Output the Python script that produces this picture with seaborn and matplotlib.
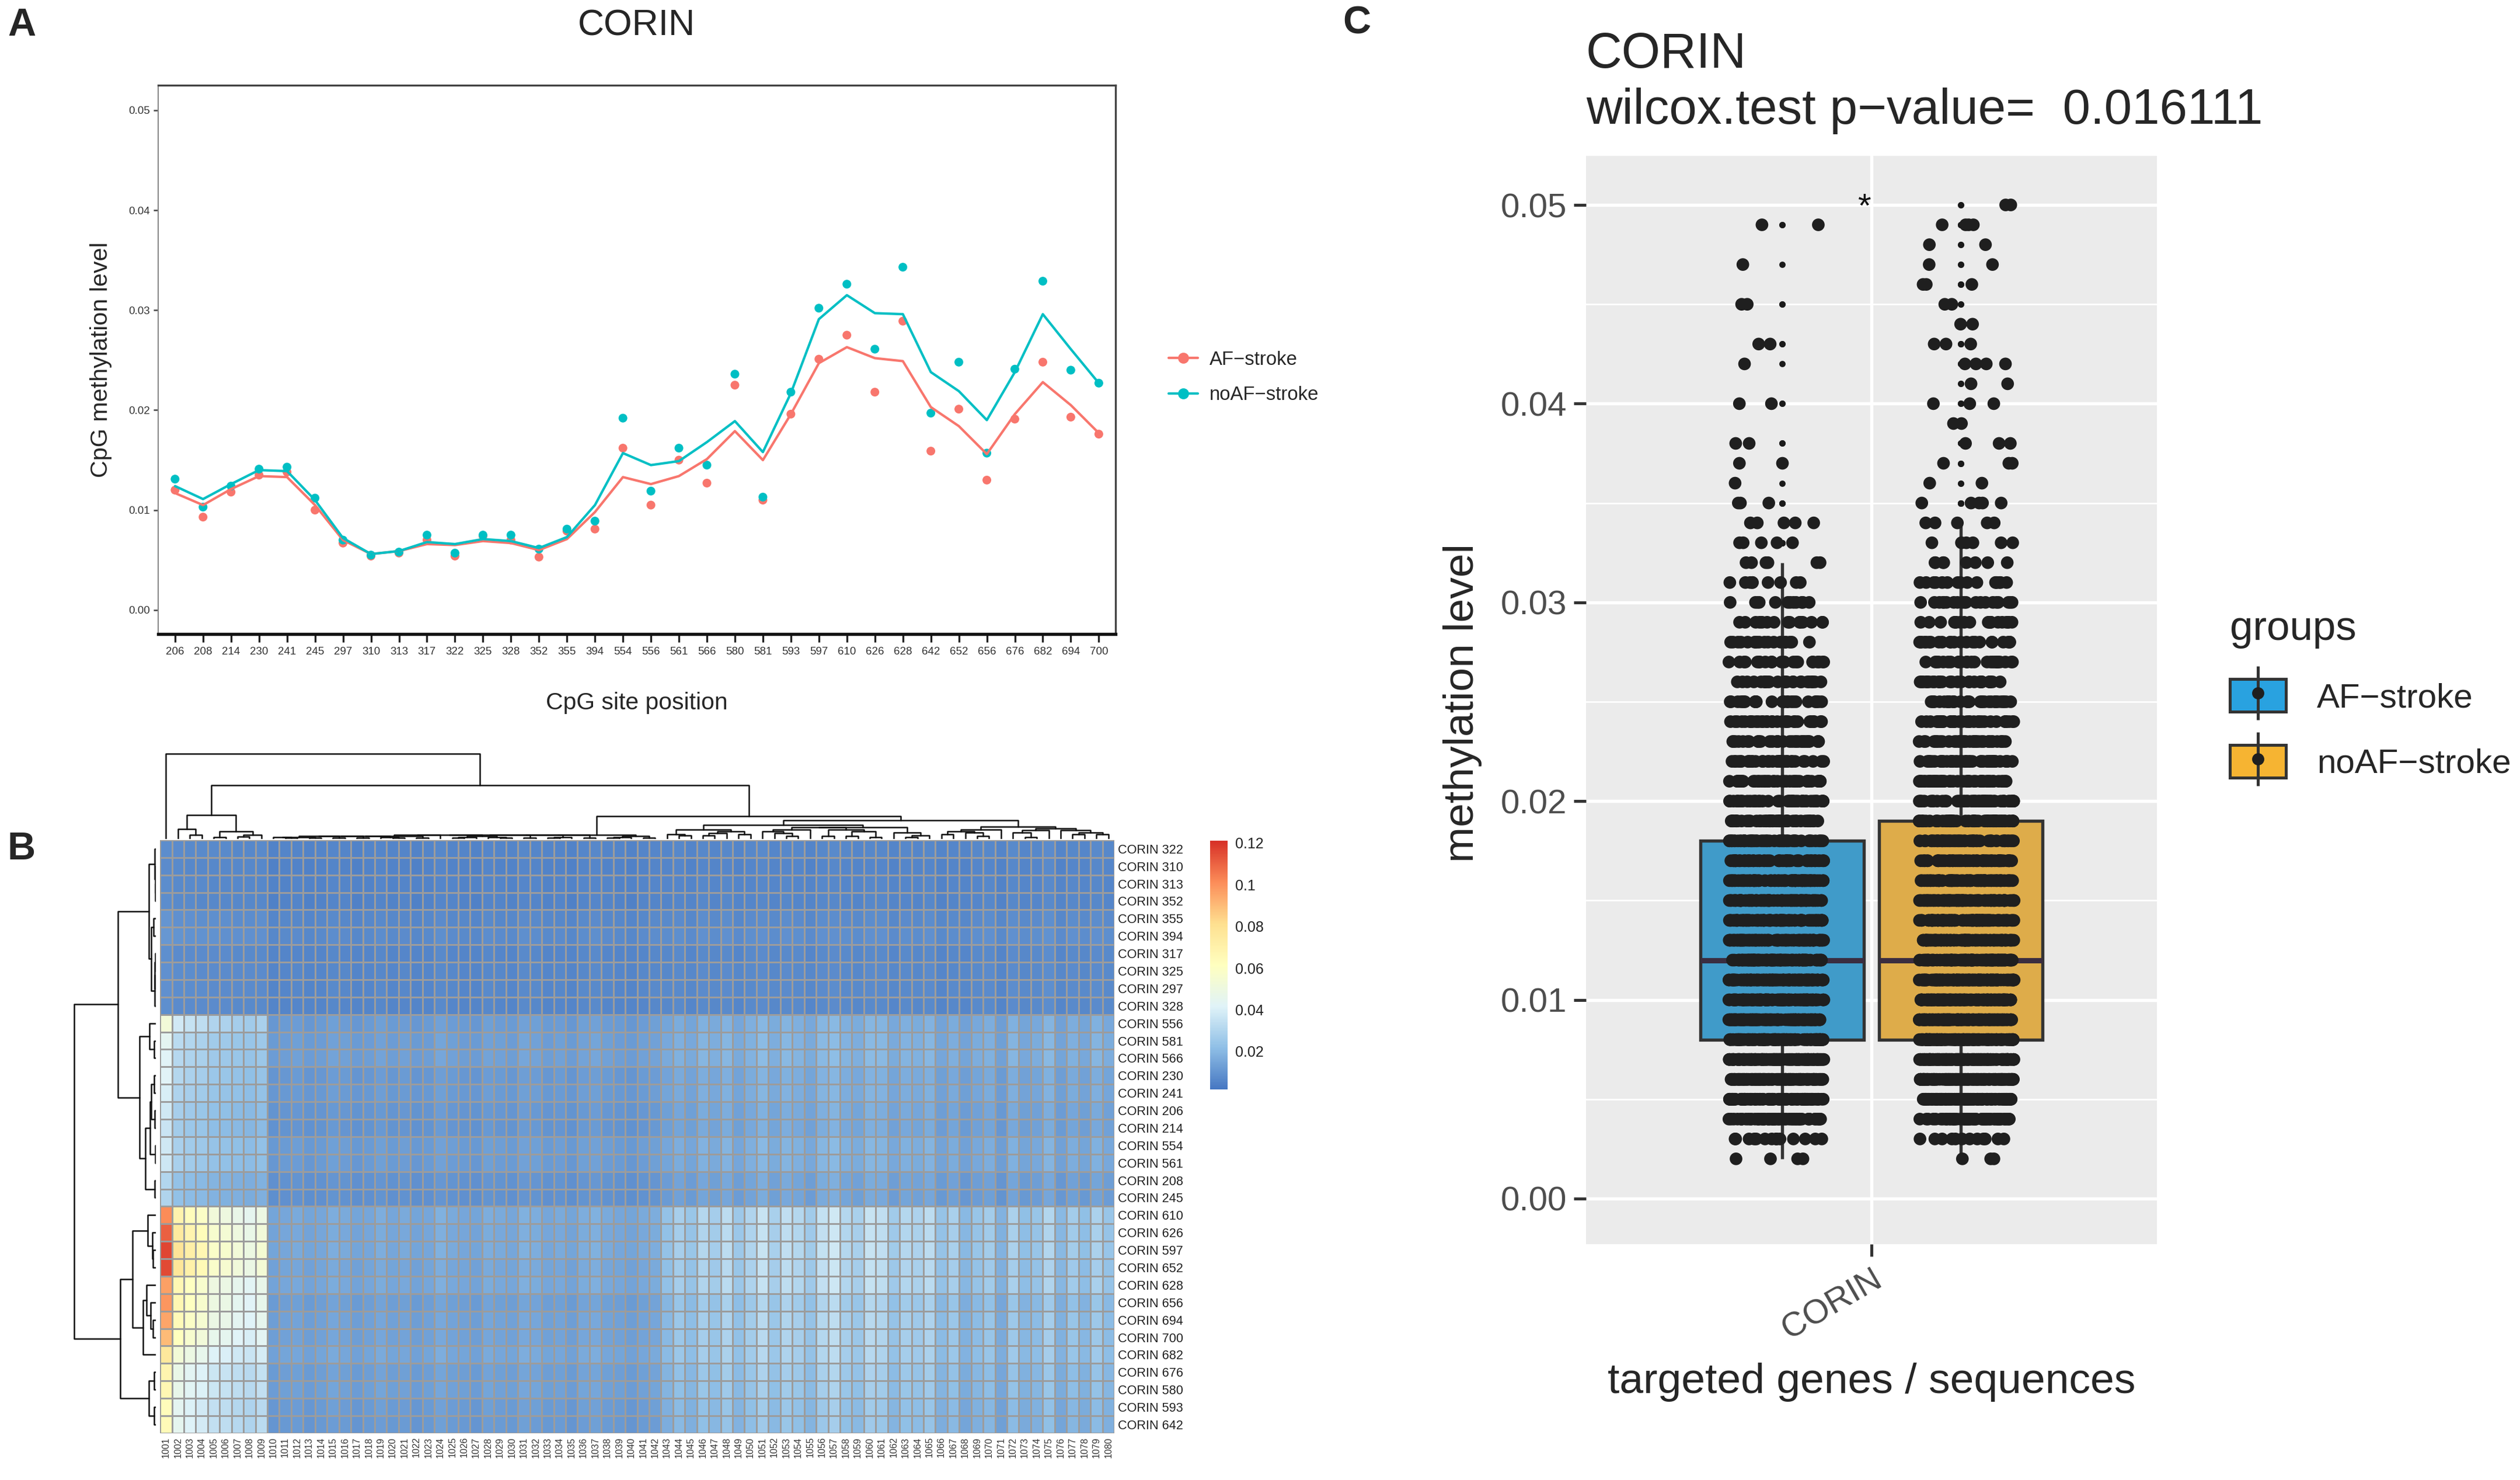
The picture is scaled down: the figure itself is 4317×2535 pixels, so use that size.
import numpy as np
import pandas as pd
import matplotlib
matplotlib.use("Agg")
import matplotlib.pyplot as plt
from matplotlib.colors import LinearSegmentedColormap
from matplotlib.patches import Patch
from matplotlib.lines import Line2D
import seaborn as sns

# ---------------- Panel A: mean methylation per CpG site ----------------
cpg_sites = ["206", "208", "214", "230", "241", "245", "297", "310", "313", "317", "322", "325",
             "328", "352", "355", "394", "554", "556", "561", "566", "580", "581", "593", "597",
             "610", "626", "628", "642", "652", "656", "676", "682", "694", "700"]
af_points = [0.0120, 0.0093, 0.0118, 0.0135, 0.0138, 0.0100, 0.0067, 0.0054, 0.0057, 0.0070,
             0.0054, 0.0074, 0.0070, 0.0053, 0.0079, 0.0081, 0.0162, 0.0105, 0.0150, 0.0127,
             0.0225, 0.0110, 0.0196, 0.0251, 0.0275, 0.0218, 0.0289, 0.0159, 0.0201, 0.0130,
             0.0191, 0.0248, 0.0193, 0.0176]
noaf_points = [0.0131, 0.0103, 0.0124, 0.0141, 0.0143, 0.0112, 0.0070, 0.0055, 0.0058, 0.0075,
               0.0057, 0.0075, 0.0075, 0.0061, 0.0081, 0.0089, 0.0192, 0.0119, 0.0162, 0.0145,
               0.0236, 0.0113, 0.0218, 0.0302, 0.0326, 0.0261, 0.0343, 0.0197, 0.0248, 0.0157,
               0.0241, 0.0329, 0.0240, 0.0227]
af_line = [0.0117, 0.0105, 0.0121, 0.0134, 0.0133, 0.0105, 0.0070, 0.0056, 0.0059, 0.0066,
           0.0065, 0.0069, 0.0067, 0.0060, 0.0071, 0.0098, 0.0133, 0.0126, 0.0134, 0.0151,
           0.0179, 0.0150, 0.0196, 0.0247, 0.0263, 0.0252, 0.0249, 0.0203, 0.0184, 0.0156,
           0.0196, 0.0228, 0.0205, 0.0177]
noaf_line = [0.0124, 0.0111, 0.0126, 0.0140, 0.0139, 0.0110, 0.0072, 0.0056, 0.0059, 0.0068,
             0.0066, 0.0071, 0.0069, 0.0062, 0.0073, 0.0105, 0.0157, 0.0145, 0.0149, 0.0168,
             0.0189, 0.0158, 0.0217, 0.0291, 0.0315, 0.0297, 0.0296, 0.0238, 0.0219, 0.0190,
             0.0238, 0.0296, 0.0261, 0.0227]

# ---------------- Panel B: heatmap (sites x samples) ----------------
heat_sites = ["322", "310", "313", "352", "355", "394", "317", "325", "297", "328",
              "556", "581", "566", "230", "241", "206", "214", "554", "561", "208", "245",
              "610", "626", "597", "652", "628", "656", "694", "700", "682", "676", "580", "593", "642"]
# typical level of each site row
row_base = [0.0062, 0.0058, 0.0060, 0.0059, 0.0072, 0.0080, 0.0066, 0.0068, 0.0070, 0.0066,
            0.0130, 0.0138, 0.0142, 0.0122, 0.0126, 0.0115, 0.0112, 0.0132, 0.0130, 0.0104, 0.0100,
            0.0170, 0.0165, 0.0170, 0.0160, 0.0165, 0.0140, 0.0150, 0.0150, 0.0160, 0.0140, 0.0145,
            0.0130, 0.0125]
# how much each row rises in the left-most (high) samples
row_extra = [0.002, 0.002, 0.002, 0.002, 0.003, 0.003, 0.002, 0.002, 0.002, 0.002,
             0.040, 0.030, 0.028, 0.030, 0.027, 0.026, 0.025, 0.024, 0.024, 0.020, 0.020,
             0.084, 0.094, 0.099, 0.099, 0.080, 0.085, 0.080, 0.075, 0.060, 0.054, 0.052, 0.050, 0.052]
# how much each row follows the lighter block of samples on the right
row_light = [0.0, 0.0, 0.0, 0.0, 0.0, 0.0, 0.0, 0.0, 0.0, 0.0,
             0.3, 0.3, 0.3, 0.3, 0.3, 0.3, 0.3, 0.3, 0.3, 0.3, 0.3,
             1.0, 1.0, 1.0, 1.0, 1.0, 0.9, 0.9, 0.9, 0.8, 0.8, 0.7, 0.7, 0.7]
# per-sample level (80 samples)
col_scale = [1.0, 1.0, 1.0, 1.0, 1.0, 1.0, 1.0, 1.0, 1.0,
             0.85, 0.9, 0.95, 0.85, 0.9, 1.0, 0.95, 0.85, 0.9, 1.0, 0.9, 0.95, 0.85, 0.9, 1.05,
             0.95, 0.9, 0.85, 1.0, 0.95, 0.9, 1.05, 1.0, 0.9, 0.95, 0.85, 1.0, 1.05, 0.95, 0.9,
             0.85, 0.95, 1.0,
             1.0, 1.05, 0.95, 1.1, 1.0, 1.1, 0.95, 1.05, 1.15, 1.0, 1.1, 1.05, 0.95, 1.1, 1.15, 1.05,
             1.0, 1.1, 1.1, 0.95, 1.05, 1.0, 1.1, 0.9, 1.0,
             0.95, 1.05, 1.1, 0.9, 1.15, 1.0, 1.05, 1.2, 0.95, 1.1, 1.0, 1.15, 1.05]
# extra level of the high samples (first 9) and the light block (samples 43-80)
col_boost = [1.0, 0.62, 0.55, 0.50, 0.42, 0.40, 0.36, 0.33, 0.38]
col_light = [0.006, 0.010, 0.008, 0.012, 0.010, 0.014, 0.009, 0.012, 0.016, 0.011, 0.015, 0.013,
             0.010, 0.016, 0.018, 0.013, 0.011, 0.017, 0.015, 0.010, 0.013, 0.012, 0.014, 0.008,
             0.011, 0.004, 0.006, 0.008, 0.003, 0.009, 0.005, 0.006, 0.010, 0.004, 0.008, 0.005,
             0.009, 0.006]
sample_ids = [str(1000 + k) for k in range(1, 81)]

# ---------------- Panel C: methylation level distribution ----------------
meth_levels = [round(k / 1000, 3) for k in range(2, 51)]   # 0.002 ... 0.050
af_counts = [4, 14, 60, 90, 114, 129, 120, 114, 111, 105, 90, 84, 75, 72, 66, 63, 57, 51, 45, 42,
             36, 33, 30, 27, 24, 21, 18, 15, 12, 9,
             6, 5, 5, 3, 1, 2, 2, 0, 2, 0, 1, 2, 0, 2, 0, 1, 0, 2, 0]
noaf_counts = [3, 12, 60, 96, 126, 138, 126, 120, 117, 111, 90, 84, 78, 72, 66, 60, 54,
               60, 53, 50, 46, 40, 36, 33, 30, 26, 23, 20, 20, 16,
               8, 6, 5, 5, 2, 3, 3, 2, 3, 2, 4, 3, 2, 2, 3, 2, 2, 4, 2]
groups = ["AF-stroke", "noAF-stroke"]

sns.set_theme(style="white")
plt.rcParams["font.family"] = ["Liberation Sans", "DejaVu Sans"]

fig = plt.figure(figsize=(4317 / 300, 2535 / 300), dpi=300)

# ======== A ========
axA = fig.add_axes([0.0628, 0.5716, 0.3799, 0.3708])
dfA = pd.DataFrame({
    "pos": list(range(len(cpg_sites))) * 2,
    "group": [groups[0]] * len(cpg_sites) + [groups[1]] * len(cpg_sites),
    "point": af_points + noaf_points,
    "line": af_line + noaf_line,
})
line_pal = {groups[0]: "#F8766D", groups[1]: "#00BFC4"}
sns.lineplot(data=dfA, x="pos", y="line", hue="group", palette=line_pal, linewidth=1.0,
             sort=False, legend=False, ax=axA)
sns.scatterplot(data=dfA, x="pos", y="point", hue="group", palette=line_pal, s=13,
                linewidth=0, legend=False, ax=axA)
axA.set_xlim(-0.6, len(cpg_sites) - 0.4)
axA.set_ylim(-0.0024, 0.0525)
axA.set_xticks(range(len(cpg_sites)))
axA.set_xticklabels(cpg_sites, fontsize=4.5, color="#333333")
yt = [0.0, 0.01, 0.02, 0.03, 0.04, 0.05]
axA.set_yticks(yt)
axA.set_yticklabels([f"{v:.2f}" for v in yt], fontsize=4.5, color="#333333")
axA.tick_params(axis="x", length=3.4, width=0.8, pad=2, color="#222222", bottom=True)
axA.tick_params(axis="y", length=2.0, width=0.6, pad=1.5, color="#444444", left=True)
axA.set_xlabel("")
axA.set_ylabel("")
for side, sp in axA.spines.items():
    sp.set_visible(True)
    sp.set_color("#444444")
    sp.set_linewidth(0.8)
axA.spines["bottom"].set_color("#111111")
axA.spines["bottom"].set_linewidth(1.3)
axA.spines["left"].set_color("#888888")
axA.spines["left"].set_linewidth(0.5)

a_handles = [Line2D([], [], color=line_pal[g], lw=1.0, marker="o", markersize=3.5) for g in groups]
fig.legend(a_handles, ["AF\u2212stroke", "noAF\u2212stroke"], loc="center left",
           bbox_to_anchor=(0.457, 0.745), frameon=False, fontsize=7.9, handlelength=1.5,
           labelspacing=0.9, handletextpad=0.6)

fig.text(0.2527, 0.9826, "CORIN", ha="center", va="center", fontsize=15)
fig.text(0.2527, 0.525, "CpG site position", ha="center", va="center", fontsize=9.8)
fig.text(0.040, 0.757, "CpG methylation level", ha="center", va="center", rotation=90, fontsize=9.9)

# ======== B ========
n_cols = len(sample_ids)
boost_full = np.array(col_boost + [0.0] * (n_cols - len(col_boost)))
light_full = np.array([0.0] * (n_cols - len(col_light)) + col_light)
heat = (np.outer(row_base, col_scale) + np.outer(row_extra, boost_full)
        + np.outer(row_light, light_full))
dfB = pd.DataFrame(heat, index=["CORIN " + s for s in heat_sites], columns=sample_ids)

cmap = LinearSegmentedColormap.from_list(
    "pheat", ["#4677C2", "#8FBFE6", "#E0F3F8", "#FFFFBF", "#FEE090", "#FC8D59", "#D73027"])

axB = fig.add_axes([0.0635, 0.0316, 0.3787, 0.4008])
axCb = fig.add_axes([0.4802, 0.2639, 0.00695, 0.168])
axRd = fig.add_axes([0.0287, 0.0316, 0.0331, 0.4008])
axCd = fig.add_axes([0.0635, 0.4331, 0.3787, 0.0588])

sns.heatmap(dfB, ax=axB, cmap=cmap, vmin=0.0018, vmax=0.121, cbar_ax=axCb,
            linewidths=0.35, linecolor="#9C9C9C", xticklabels=True, yticklabels=True)
axB.set_xlabel("")
axB.set_ylabel("")
axB.yaxis.tick_right()
axB.set_yticklabels(dfB.index, rotation=0, fontsize=5.2, color="#222222")
axB.set_xticklabels(sample_ids, rotation=90, fontsize=3.8, color="#333333")
axB.tick_params(axis="both", length=0, pad=1.5)

cbar = axB.collections[0].colorbar
cbar.outline.set_visible(False)
cbar.set_ticks([0.02, 0.04, 0.06, 0.08, 0.1, 0.12])
cbar.set_ticklabels(["0.02", "0.04", "0.06", "0.08", "0.1", "0.12"])
axCb.tick_params(length=0, labelsize=6, pad=3, labelcolor="#222222")


def chain_linkage(data):
    # complete linkage, merging only neighbours so the drawn order is kept
    n = len(data)
    dist = np.sqrt(((data[:, None, :] - data[None, :, :]) ** 2).sum(-1))
    clusters = [[i] for i in range(n)]
    pos = [i + 0.5 for i in range(n)]
    height = [0.0] * n
    links = []
    while len(clusters) > 1:
        gaps = [dist[np.ix_(clusters[k], clusters[k + 1])].max() for k in range(len(clusters) - 1)]
        k = int(np.argmin(gaps))
        h = max(gaps[k], height[k], height[k + 1])
        links.append((pos[k], height[k], pos[k + 1], height[k + 1], h))
        clusters[k:k + 2] = [clusters[k] + clusters[k + 1]]
        pos[k:k + 2] = [(pos[k] + pos[k + 1]) / 2]
        height[k:k + 2] = [h]
    return links, height[0]


row_links, row_top = chain_linkage(heat)
for p1, h1, p2, h2, h in row_links:
    axRd.plot([h1, h, h, h2], [p1, p1, p2, p2], color="#111111", lw=0.6)
axRd.set_ylim(len(heat_sites), 0)
axRd.set_xlim(row_top * 1.02, 0)
axRd.axis("off")

col_links, col_top = chain_linkage(heat.T)
for p1, h1, p2, h2, h in col_links:
    axCd.plot([p1, p1, p2, p2], [h1, h, h, h2], color="#111111", lw=0.6)
axCd.set_xlim(0, n_cols)
axCd.set_ylim(0, col_top * 1.02)
axCd.axis("off")

# ======== C ========
values, labels = [], []
for g, counts in zip(groups, [af_counts, noaf_counts]):
    for lvl, c in zip(meth_levels, counts):
        values += [lvl] * c
        labels += [g] * c
dfC = pd.DataFrame({"gene": "CORIN", "group": labels, "value": values})
box_pal = {groups[0]: "#29A2E0", groups[1]: "#F6B432"}

axC = fig.add_axes([0.6294, 0.1594, 0.2265, 0.7353])
axC.set_facecolor("#EBEBEB")
sns.boxplot(data=dfC, x="gene", y="value", hue="group", hue_order=groups, palette=box_pal,
            width=0.75, gap=0.085, whis=1.45, linecolor="#333333", linewidth=1.3,
            showcaps=False, fliersize=1.6,
            flierprops=dict(marker="o", markerfacecolor="#1a1a1a", markeredgecolor="#1a1a1a"),
            medianprops=dict(color="#3a2d40", linewidth=2.2), legend=False, ax=axC)
np.random.seed(7)
sns.stripplot(data=dfC, x="gene", y="value", hue="group", hue_order=groups,
              palette={g: "#1f1f1f" for g in groups}, dodge=True, jitter=0.2, size=5.2,
              linewidth=0, legend=False, ax=axC)
axC.set_xlim(-0.6, 0.6)
axC.set_ylim(-0.00229, 0.05247)
yt = [0.0, 0.01, 0.02, 0.03, 0.04, 0.05]
axC.set_yticks(yt)
axC.set_yticklabels([f"{v:.2f}" for v in yt])
axC.set_yticks([0.005, 0.015, 0.025, 0.035, 0.045], minor=True)
axC.set_axisbelow(True)
axC.grid(which="major", color="white", linewidth=1.3)
axC.grid(which="minor", axis="y", color="white", linewidth=0.65)
axC.set_xticks([0])
axC.set_xticklabels(["CORIN"], rotation=30, ha="right", va="top", rotation_mode="anchor")
axC.tick_params(which="major", length=5, width=1.2, color="#333333", labelcolor="#4D4D4D",
                labelsize=14, left=True, bottom=True, pad=3)
axC.tick_params(which="minor", length=0)
axC.set_xlabel("")
axC.set_ylabel("")
for sp in axC.spines.values():
    sp.set_visible(False)
axC.text(-0.015, 0.0494, "*", ha="center", va="baseline", fontsize=14, color="#111111")

fig.text(0.6294, 0.963, "CORIN", ha="left", va="center", fontsize=20.5)
fig.text(0.6294, 0.925, "wilcox.test p\u2212value=  0.016111", ha="left", va="center", fontsize=20.5)
fig.text(0.7427, 0.066, "targeted genes / sequences", ha="center", va="center", fontsize=17.6)
fig.text(0.5803, 0.525, "methylation level", ha="center", va="center", rotation=90, fontsize=17.6)

c_handles = []
for g in groups:
    c_handles.append((
        Patch(facecolor=box_pal[g], edgecolor="#333333", linewidth=1.2),
        Line2D([], [], marker="|", markersize=22, color="#333333", mew=1.2, linestyle="none"),
        Line2D([], [], marker="o", markersize=4, color="#1f1f1f", linestyle="none"),
    ))
fig.legend(c_handles, ["AF\u2212stroke", "noAF\u2212stroke"], title="groups",
           loc="upper left", bbox_to_anchor=(0.8795, 0.597), frameon=False,
           fontsize=14, title_fontsize=17, alignment="left", handlelength=1.65,
           handleheight=1.1, labelspacing=0.9, handletextpad=0.9, borderaxespad=0)

# panel letters
for letter, x, y in [("A", 0.003, 0.9826), ("B", 0.003, 0.426), ("C", 0.5328, 0.984)]:
    fig.text(x, y, letter, ha="left", va="center", fontsize=16, fontweight="bold")

fig.savefig("out.png", dpi=300)
